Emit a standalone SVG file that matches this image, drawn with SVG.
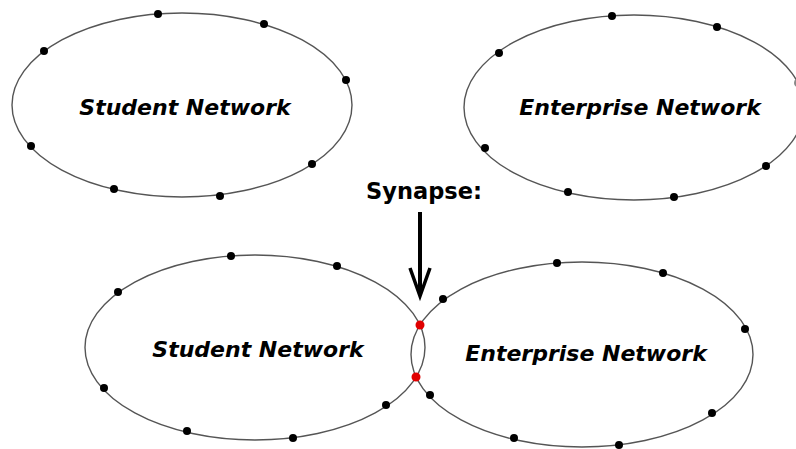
<svg xmlns="http://www.w3.org/2000/svg" width="796" height="449" viewBox="0 0 796 449">
<style>
.net{fill:none;stroke:#555;stroke-width:1.4}
.dot{fill:#000}
.syn{fill:#e00000}
.lbl{font-family:"DejaVu Sans",sans-serif;font-weight:bold;font-style:italic;font-size:22px;fill:#000;text-anchor:middle}
.title{font-family:"DejaVu Sans",sans-serif;font-weight:bold;font-size:22.5px;fill:#000;text-anchor:middle}
</style>
<rect width="796" height="449" fill="#fff"/>
<g id="student-top">
<ellipse class="net" cx="182" cy="105" rx="170" ry="92"/>
<g class="dot">
<circle cx="158" cy="14" r="4"/><circle cx="264" cy="24" r="4"/><circle cx="44" cy="51" r="4"/><circle cx="346" cy="80" r="4"/>
<circle cx="31" cy="146" r="4"/><circle cx="312" cy="164" r="4"/><circle cx="114" cy="189" r="4"/><circle cx="220" cy="196" r="4"/>
</g>
<text class="lbl" x="185" y="115">Student Network</text>
</g>
<g id="enterprise-top">
<ellipse class="net" cx="634" cy="107.5" rx="170" ry="92.5"/>
<g class="dot">
<circle cx="612" cy="16" r="4"/><circle cx="717" cy="27" r="4"/><circle cx="499" cy="53" r="4"/><circle cx="485" cy="148" r="4"/>
<circle cx="766" cy="166" r="4"/><circle cx="568" cy="192" r="4"/><circle cx="674" cy="197" r="4"/>
<circle cx="798" cy="83" r="4" fill="#888"/>
</g>
<text class="lbl" x="640" y="115">Enterprise Network</text>
</g>
<g id="synapse-label">
<text class="title" x="424" y="199">Synapse:</text>
</g>
<g id="connectors">
<line x1="420" y1="212" x2="420" y2="295" stroke="#000" stroke-width="4"/>
<polyline points="410,268 420,296 430,268" fill="none" stroke="#000" stroke-width="3.5" stroke-linejoin="miter"/>
</g>
<g id="student-bottom">
<ellipse class="net" cx="255" cy="347.5" rx="170" ry="92.5"/>
<g class="dot">
<circle cx="231" cy="256" r="4"/><circle cx="337" cy="266" r="4"/><circle cx="118" cy="292" r="4"/><circle cx="104" cy="388" r="4"/>
<circle cx="386" cy="405" r="4"/><circle cx="187" cy="431" r="4"/><circle cx="293" cy="438" r="4"/>
</g>
<text class="lbl" x="258" y="357">Student Network</text>
</g>
<g id="enterprise-bottom">
<ellipse class="net" cx="582" cy="354.5" rx="171" ry="92.5"/>
<g class="dot">
<circle cx="557" cy="263" r="4"/><circle cx="663" cy="273" r="4"/><circle cx="443" cy="299" r="4"/><circle cx="745" cy="329" r="4"/>
<circle cx="430" cy="395" r="4"/><circle cx="712" cy="413" r="4"/><circle cx="514" cy="438" r="4"/><circle cx="619" cy="445" r="4"/>
</g>
<text class="lbl" x="586" y="361">Enterprise Network</text>
</g>
<g id="synapses">
<circle class="syn" cx="420" cy="325" r="4.5"/>
<circle class="syn" cx="416" cy="377" r="4.5"/>
</g>
</svg>
